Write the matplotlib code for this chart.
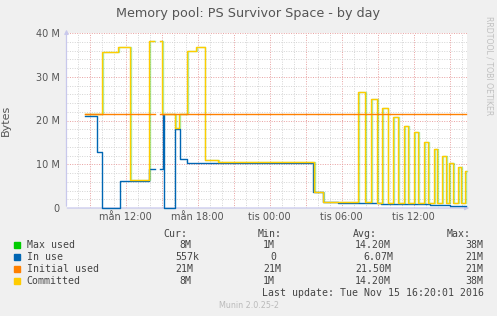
import numpy as np
import matplotlib
matplotlib.use("Agg")
import matplotlib.pyplot as plt

# time in hours since Monday 00:00, values in M bytes (step data, NaN = no data)
t_used = [8.61, 9.63, 10.05, 11.53, 13.97, 14.44, 14.88, 15.11, 15.23, 16.11, 16.53, 17.08,
          27.63, 28.42, 29.69, 31.53, 33.28, 34.86, 37.36, 39.03, 40.36]
in_use = [21.0, 12.9, 0.0, 6.2, 8.9, np.nan, 8.9, 21.2, 0.0, 18.1, 11.1, 10.4,
          3.6, 1.3, 1.15, 1.1, 1.0, 0.9, 0.75, 0.56, 0.56]

t_comm = [8.61, 10.05, 11.4, 12.36, 13.97, 14.4, 14.86, 15.05, 16.11, 16.47, 17.13, 17.9,
          18.57, 19.69, 27.73, 28.42, 31.38, 31.92, 32.44, 32.97, 33.38, 33.83, 34.3,
          34.72, 35.22, 35.55, 36.05, 36.38, 36.88, 37.22, 37.67, 37.97, 38.38, 38.67,
          38.97, 39.3, 39.69, 39.97, 40.25, 40.36]
committed = [21.5, 35.6, 36.7, 6.3, 38.2, np.nan, 38.2, 21.5, 18.2, 21.5, 36.0, 36.7,
             11.0, 10.5, 3.6, 1.45, 26.6, 1.4, 24.9, 1.1, 22.9, 1.1, 20.9,
             1.1, 18.8, 1.1, 17.3, 1.1, 15.2, 1.1, 13.6, 1.1, 12.0, 1.1,
             10.4, 1.1, 9.3, 1.1, 8.4, 8.4]
max_used = list(committed)

t_init = [8.61, 14.44, 14.88, 40.36]
initial_used = [21.5, np.nan, 21.5, 21.5]

xtick_hours = [12, 18, 24, 30, 36]
xtick_labels = ["mån 12:00", "mån 18:00", "tis 00:00", "tis 06:00", "tis 12:00"]
ytick_vals = [0, 10, 20, 30, 40]
ytick_labels = ["0", "10 M", "20 M", "30 M", "40 M"]

legend_names = ["Max used", "In use", "Initial used", "Committed"]
legend_colors = ["#00CC00", "#0066B3", "#FF8000", "#FFCC00"]
cur_vals = ["8M", "557k", "21M", "8M"]
min_vals = ["1M", "0", "21M", "1M"]
avg_vals = ["14.20M", "6.07M", "21.50M", "14.20M"]
max_vals = ["38M", "21M", "21M", "38M"]

W, H = 497, 316
fig = plt.figure(figsize=(W / 100, H / 100), dpi=100, facecolor="#F0F0F0")
ax = fig.add_axes([66.5 / W, 1 - 208 / H, 400 / W, 175 / H])
ax.set_facecolor("white")

# grid: minor grey every hour / 2M, major red every 3h / 10M
for h in range(8, 41):
    col = "#E8A0A0" if h % 3 == 0 else "#D4D4D4"
    ax.axvline(h, color=col, lw=0.7, ls=(0, (1, 1.5)), zorder=0)
for v in range(2, 41, 2):
    col = "#E8A0A0" if v % 10 == 0 else "#D4D4D4"
    ax.axhline(v, color=col, lw=0.7, ls=(0, (1, 1.5)), zorder=0)

# series (max used sits under committed, only its edges peek out)
ax.step(np.array(t_comm) + 0.07, max_used, where="post", color=legend_colors[0],
        lw=1.0, alpha=0.35, zorder=2, clip_on=False)
ax.step(t_used, in_use, where="post", color=legend_colors[1], lw=1.0, zorder=3,
        clip_on=False)
ax.step(t_comm, committed, where="post", color=legend_colors[3], lw=1.0, zorder=4,
        clip_on=False)
ax.step(t_init, initial_used, where="post", color=legend_colors[2], lw=1.0, zorder=5,
        clip_on=False)

ax.set_xlim(7.067, 40.4)
ax.set_ylim(0, 40)
ax.set_xticks(xtick_hours)
ax.set_xticklabels(xtick_labels)
ax.set_yticks(ytick_vals)
ax.set_yticklabels(ytick_labels)
ax.tick_params(length=0, labelsize=7, colors="#555555")
ax.tick_params(axis="x", pad=3)
ax.tick_params(axis="y", pad=5)
for s in ax.spines.values():
    s.set_visible(False)

# axes with arrows
axis_col = "#C8C8EC"
ax.annotate("", xy=(0, 1.035), xytext=(0, -0.005), xycoords="axes fraction",
            arrowprops=dict(arrowstyle="-|>", color=axis_col, lw=0.9, mutation_scale=6),
            annotation_clip=False, zorder=1)
ax.annotate("", xy=(1.014, 0), xytext=(-0.005, 0), xycoords="axes fraction",
            arrowprops=dict(arrowstyle="-|>", color=axis_col, lw=0.9, mutation_scale=6),
            annotation_clip=False, zorder=1)

ax.set_ylabel("Bytes", fontsize=8, color="#555555")
ax.yaxis.set_label_coords(-0.14, 0.5)


def ftext(x, y, s, **kw):
    fig.text(x / W, 1 - y / H, s, **kw)


ftext(248, 14, "Memory pool: PS Survivor Space - by day", ha="center", va="center",
      fontsize=9.2, color="#555555")
ftext(489, 66, "RRDTOOL / TOBI OETIKER", ha="center", va="center", rotation=-90,
      fontsize=5.6, color="#C0C0C0")

mono = dict(family="DejaVu Sans Mono", fontsize=7.1, color="#444444", va="center")
ftext(163, 234.3, "Cur:", **mono)
ftext(258, 234.3, "Min:", **mono)
ftext(353, 234.3, "Avg:", **mono)
ftext(447, 234.3, "Max:", **mono)

rows_y = [245.3, 257.3, 269.3, 281.3]
cur_x = [179, 175.7, 175.7, 179]
min_x = [263, 270, 263, 263]
avg_x = [355, 363, 355, 355]
for i, y in enumerate(rows_y):
    fig.patches.append(plt.Rectangle((14 / W, 1 - (y + 3) / H), 6 / W, 6 / H,
                                     transform=fig.transFigure, color=legend_colors[i]))
    ftext(26.7, y, legend_names[i], **mono)
    ftext(cur_x[i], y, cur_vals[i], **mono)
    ftext(min_x[i], y, min_vals[i], **mono)
    ftext(avg_x[i], y, avg_vals[i], **mono)
    ftext(465, y, max_vals[i], **mono)

ftext(262, 292.7, "Last update: Tue Nov 15 16:20:01 2016", **mono)
ftext(249, 305.3, "Munin 2.0.25-2", ha="center", va="center", fontsize=5.8, color="#BBBBBB")

fig.savefig("out.png", dpi=100, facecolor=fig.get_facecolor())
